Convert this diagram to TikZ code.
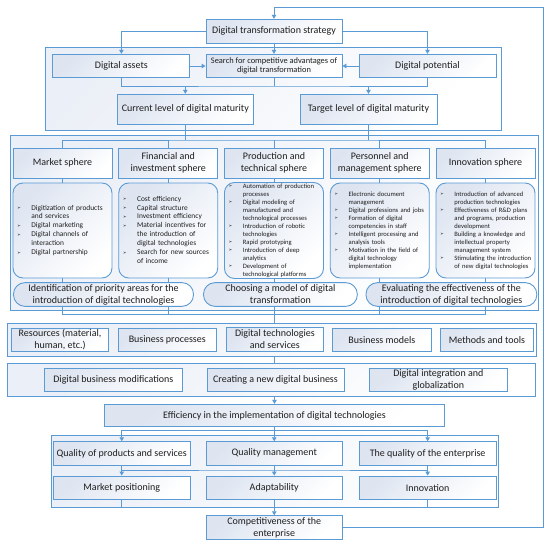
\documentclass[tikz,border=0pt]{standalone}
\usepackage{fontspec}
\setmainfont{Carlito}
\newfontfamily\symfont{DejaVu Sans}
\usepackage{tikz}
\usetikzlibrary{arrows.meta}

\definecolor{lineblue}{RGB}{91,155,213}
\definecolor{boxshade}{RGB}{222,229,241}
\definecolor{txtgray}{RGB}{30,30,30}

\newcommand{\bul}{\raisebox{0.5pt}{\symfont\fontsize{4.5}{5}\selectfont ➢}}
\newcommand{\smallfont}{\fontsize{7.4}{8.9}\selectfont}
\newcommand{\tinyfont}{\fontsize{6.6}{8}\selectfont}

\begin{document}
\begin{tikzpicture}[x=1pt, y=-1pt,
    box/.style={draw=lineblue, line width=0.9pt, top color=boxshade, bottom color=white, shading angle=45,
        text=txtgray, align=center, inner sep=1pt, font=\fontsize{10}{12}\selectfont},
    frame/.style={draw=lineblue, line width=0.9pt, top color=boxshade!60, bottom color=white, shading angle=45, inner sep=0pt},
    listbox/.style={box, rounded corners=10pt, minimum width=99pt, minimum height=95pt, text width=91pt,
        inner xsep=4pt, inner ysep=0pt, align=left},
    pill/.style={box, rounded corners=11.5pt, minimum height=23.7pt},
    conn/.style={lineblue, line width=0.9pt},
    arr/.style={conn, -{Triangle[length=4pt,width=4.5pt]}}]

    \fill[white] (0,0) rectangle (550,546);
    \useasboundingbox (0,0) rectangle (550,546);

    % Frames
    \node[frame, minimum width=455.8pt, minimum height=82.3pt] (frmA) at (273.7,88.8) {};
    \node[frame, minimum width=527.3pt, minimum height=175pt] (frmB) at (274.3,222.5) {};
    \node[frame, minimum width=529pt, minimum height=33.4pt] (frmC) at (272.2,340) {};
    \node[frame, minimum width=527.3pt, minimum height=32.7pt] (frmD) at (271.4,379.6) {};
    \node[frame, minimum width=447.8pt, minimum height=71.6pt] (frmE) at (274.9,471.5) {};

    % Strategy and maturity
    \node[box, minimum width=136pt, minimum height=24pt] (strategy) at (274,31.3) {Digital transformation strategy};
    \node[box, minimum width=137pt, minimum height=23.4pt] (assets) at (121.4,66) {Digital assets};
    \node[box, minimum width=136pt, minimum height=23.4pt, font=\fontsize{8.4}{9.6}\selectfont] (search) at (274,66)
        {Search for competitive advantages of\\digital transformation};
    \node[box, minimum width=137pt, minimum height=23.4pt] (potential) at (427.5,66) {Digital potential};
    \node[box, minimum width=136.2pt, minimum height=30pt] (curlevel) at (185.3,109.3) {Current level of digital maturity};
    \node[box, minimum width=137pt, minimum height=30pt] (tgtlevel) at (368.5,109.3) {Target level of digital maturity};

    % Spheres
    \node[box, minimum width=99pt, minimum height=30pt] (hdmarket) at (62.5,163) {Market sphere};
    \node[box, minimum width=99pt, minimum height=30pt] (hdfin) at (168.25,163) {Financial and\\investment sphere};
    \node[box, minimum width=99pt, minimum height=30pt] (hdprod) at (274,163) {Production and\\technical sphere};
    \node[box, minimum width=99pt, minimum height=30pt] (hdpers) at (379.75,163) {Personnel and\\management sphere};
    \node[box, minimum width=99pt, minimum height=30pt] (hdinno) at (485.5,163) {Innovation sphere};

    \node[listbox, font=\smallfont] (lsmarket) at (62.5,230.5) {\begin{tabular}{@{}p{14.4pt}@{}l@{}}
        \bul & Digitization of products\\
             & and services\\
        \bul & Digital marketing\\
        \bul & Digital channels of\\
             & interaction\\
        \bul & Digital partnership
        \end{tabular}};
    \node[listbox, font=\smallfont] (lsfin) at (168.25,230.5) {\begin{tabular}{@{}p{14.4pt}@{}l@{}}
        \bul & Cost efficiency\\
        \bul & Capital structure\\
        \bul & Investment efficiency\\
        \bul & Material incentives for\\
             & the introduction of\\
             & digital technologies\\
        \bul & Search for new sources\\
             & of income
        \end{tabular}};
    \node[listbox, font=\tinyfont] (lsprod) at (274,230.5) {\begin{tabular}{@{}p{14.4pt}@{}l@{}}
        \bul & Automation of production\\
             & processes\\
        \bul & Digital modeling of\\
             & manufactured and\\
             & technological processes\\
        \bul & Introduction of robotic\\
             & technologies\\
        \bul & Rapid prototyping\\
        \bul & Introduction of deep\\
             & analytics\\
        \bul & Development of\\
             & technological platforms
        \end{tabular}};
    \node[listbox, font=\tinyfont] (lspers) at (379.75,230.5) {\begin{tabular}{@{}p{14.4pt}@{}l@{}}
        \bul & Electronic document\\
             & management\\
        \bul & Digital professions and jobs\\
        \bul & Formation of digital\\
             & competencies in staff\\
        \bul & Intelligent processing and\\
             & analysis tools\\
        \bul & Motivation in the field of\\
             & digital technology\\
             & implementation
        \end{tabular}};
    \node[listbox, font=\tinyfont] (lsinno) at (485.5,230.5) {\begin{tabular}{@{}p{14.4pt}@{}l@{}}
        \bul & Introduction of advanced\\
             & production technologies\\
        \bul & Effectiveness of R\&D plans\\
             & and programs, production\\
             & development\\
        \bul & Building a knowledge and\\
             & intellectual property\\
             & management system\\
        \bul & Stimulating the introduction\\
             & of new digital technologies
        \end{tabular}};

    % Joins
    \coordinate (joinA) at (274,86);
    \coordinate (joinB) at (274,140);
    \coordinate (joinC) at (274.5,314.3);
    \coordinate (joinD) at (274.5,430);
    \coordinate (joinE) at (274.5,470);
    \coordinate (joinF) at (274.5,507.3);
    \coordinate (fback) at (543,7);

    % Column lines (under the ovals)
    \draw[conn] (lsmarket.south) |- (joinC) -| (lsinno.south);
    \foreach \n in {lsfin,lsprod,lspers} \draw[conn] (\n.south) -- (\n.south |- joinC);
    \foreach \n in {market,fin,prod,pers,inno} \draw[conn] (hd\n.south) -- (ls\n.north);

    \node[pill, minimum width=180pt] (ident) at (103.5,294.5)
        {Identification of priority areas for the\\introduction of digital technologies};
    \node[pill, minimum width=153.8pt] (choose) at (280.4,294.5) {Choosing a model of digital\\transformation};
    \node[pill, minimum width=170.8pt] (evaluate) at (451.4,294.5)
        {Evaluating the effectiveness of the\\introduction of digital technologies};

    % Resources row
    \node[box, minimum width=96.8pt, minimum height=22.5pt] (resources) at (60,340) {Resources (material,\\human, etc.)};
    \node[box, minimum width=98.5pt, minimum height=22.5pt] (bproc) at (167.25,340) {Business processes};
    \node[box, minimum width=97.8pt, minimum height=23.3pt] (dtech) at (274.9,339.4) {Digital technologies\\and services};
    \node[box, minimum width=98.6pt, minimum height=22.5pt] (bmodels) at (381.9,340) {Business models};
    \node[box, minimum width=92.6pt, minimum height=22.5pt] (methods) at (487,340) {Methods and tools};

    % Business row
    \node[box, minimum width=137.3pt, minimum height=23.4pt] (modif) at (113.35,380) {Digital business modifications};
    \node[box, minimum width=137pt, minimum height=23.4pt] (newbiz) at (275.5,380) {Creating a new digital business};
    \node[box, minimum width=137.4pt, minimum height=23.4pt] (integr) at (438.3,380) {Digital integration and\\globalization};

    % Results
    \node[box, minimum width=339.3pt, minimum height=22.4pt] (effic) at (274.55,415.5)
        {Efficiency in the implementation of digital technologies};
    \node[box, minimum width=136.5pt, minimum height=23.3pt] (qprod) at (121.75,453.35) {Quality of products and services};
    \node[box, minimum width=136.5pt, minimum height=23.3pt] (qmanag) at (274.25,453.35) {Quality management};
    \node[box, minimum width=137.3pt, minimum height=23.3pt] (qenter) at (427.65,453.35) {The quality of the enterprise};
    \node[box, minimum width=136.5pt, minimum height=23.3pt] (mpos) at (121.75,487.65) {Market positioning};
    \node[box, minimum width=136.5pt, minimum height=23.3pt] (adapt) at (274.25,487.65) {Adaptability};
    \node[box, minimum width=137.3pt, minimum height=23.3pt] (innov) at (427.65,487.65) {Innovation};
    \node[box, minimum width=136.5pt, minimum height=23.3pt] (compet) at (274.25,527.35) {Competitiveness of the\\enterprise};

    % Connectors at the top
    \draw[arr] (strategy.west) -| (assets.north);
    \draw[arr] (strategy.east) -| (potential.north);
    \draw[arr] (strategy.south) -- (search.north);
    \draw[arr] (assets.east) -- (search.west);
    \draw[arr] (potential.west) -- (search.east);
    \draw[conn] (assets.south) |- (joinA) -| (potential.south);
    \draw[conn] (search.south) -- (joinA);
    \draw[arr] (curlevel.north |- joinA) -- (curlevel.north);
    \draw[arr] (tgtlevel.north |- joinA) -- (tgtlevel.north);

    % Maturity to spheres
    \draw[conn] (curlevel.south) -- (curlevel.south |- joinB);
    \draw[conn] (tgtlevel.south) -- (tgtlevel.south |- joinB);
    \draw[conn] (hdmarket.north) |- (joinB) -| (hdinno.north);
    \foreach \n in {hdfin,hdprod,hdpers} \draw[conn] (\n.north) -- (\n.north |- joinB);

    % Down the middle
    \draw[conn] (joinC) -- (joinC |- frmC.north);
    \draw[conn] (joinC |- frmC.south) -- (joinC |- frmD.north);
    \draw[arr] (joinC |- frmD.south) -- (joinC |- effic.north);
    \draw[conn] (effic.south -| joinD) -- (joinD);
    \draw[conn] (qprod.north |- joinD) -- (qenter.north |- joinD);
    \foreach \n in {qprod,qmanag,qenter} \draw[arr] (\n.north |- joinD) -- (\n.north);
    \draw[conn] (qprod.south) |- (joinE) -| (qenter.south);
    \draw[conn] (qmanag.south) -- (qmanag.south |- joinE);
    \foreach \n in {mpos,adapt,innov} \draw[arr] (\n.north |- joinE) -- (\n.north);
    \draw[conn] (mpos.south) |- (joinF) -| (innov.south);
    \draw[conn] (adapt.south) -- (adapt.south |- joinF);
    \draw[arr] (compet.north |- joinF) -- (compet.north);

    % Feedback loop
    \draw[arr] (compet.east) -| (fback) -| (strategy.north);
\end{tikzpicture}
\end{document}
